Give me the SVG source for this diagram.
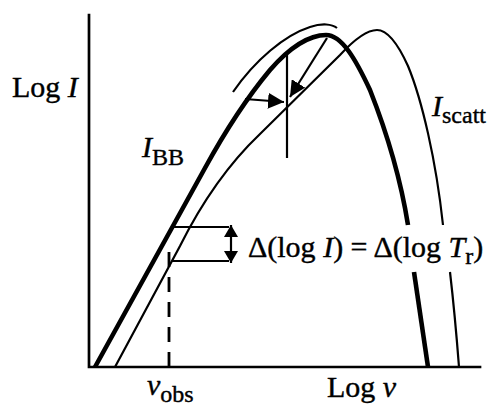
<svg xmlns="http://www.w3.org/2000/svg" width="491" height="408" viewBox="0 0 491 408">
<style>
.ax{fill:none;stroke:#000;stroke-width:2.7;stroke-linecap:square}
.thick{fill:none;stroke:#000;stroke-width:4.6;stroke-linecap:butt}
.thin{fill:none;stroke:#000;stroke-width:2.2;stroke-linecap:butt}
.t{font-family:"Liberation Serif","Times New Roman",serif;font-size:30px;fill:#000;stroke:#000;stroke-width:0.4}
.i{font-style:italic}
.s{font-size:24px}
</style>
<defs>
<marker id="ah" viewBox="0 0 16 16" refX="16" refY="8" markerWidth="16" markerHeight="16" markerUnits="userSpaceOnUse" orient="auto-start-reverse">
<path d="M0,0 L16,8 L0,16 z" fill="#000"/>
</marker>
<marker id="ah2" viewBox="0 0 12 14" refX="12" refY="7" markerWidth="12" markerHeight="14" markerUnits="userSpaceOnUse" orient="auto-start-reverse">
<path d="M0,0 L12,7 L0,14 z" fill="#000"/>
</marker>
</defs>
<g id="axes">
<path class="ax" d="M89,15 L89,367 L480,367"/>
</g>
<g id="curve-bb">
<path class="thick" d="M95,367 L205,168 C222,137 245,100 270,70 C290,47 310,35 326,35 C342,35 356,60 370,90 C385,128 400,175 408,225"/>
<path class="thick" d="M414,272 Q420,312 428,367"/>
</g>
<g id="curve-scatt">
<path class="thin" d="M115,367 L180,246 C195,216 220,172 260,134 L340,55 C352,42 365,30 377,30 C388,30 398,44 408,66 C422,100 436,160 443,225"/>
<path class="thin" d="M450,272 Q455,315 459,367"/>
</g>
<g id="connectors">
<path class="thin" stroke-width="2.5" d="M233,92 C255,60 285,35 310,27 C322,23 332,24 337,28"/>
<path class="thin" d="M287,53 L287,158"/>
<path class="thin" d="M245,99 L284,102" marker-end="url(#ah)"/>
<path class="thin" d="M327,38 L290,97" marker-end="url(#ah)"/>
<path class="thin" d="M173,227 L229,227"/>
<path class="thin" d="M172,261 L229,261"/>
<path class="thin" d="M231,225 L231,263" marker-start="url(#ah2)" marker-end="url(#ah2)"/>
<path fill="none" stroke="#000" stroke-width="2.8" stroke-dasharray="15 10" d="M169,367 L169,252"/>
</g>
<g id="labels">
<text class="t" x="12" y="97">Log <tspan class="i">I</tspan></text>
<text class="t" x="142" y="157"><tspan class="i">I</tspan><tspan class="s" dy="8">BB</tspan></text>
<text class="t" x="432" y="116"><tspan class="i">I</tspan><tspan class="s" dy="7">scatt</tspan></text>
<text class="t" x="248" y="257">Δ(log <tspan class="i">I</tspan>) = Δ(log <tspan class="i">T</tspan><tspan class="s" dy="7">r</tspan><tspan dy="-7">)</tspan></text>
<text class="t" x="147" y="395"><tspan class="i">ν</tspan><tspan class="s" dy="7">obs</tspan></text>
<text class="t" x="327" y="397">Log <tspan class="i">ν</tspan></text>
</g>
</svg>
